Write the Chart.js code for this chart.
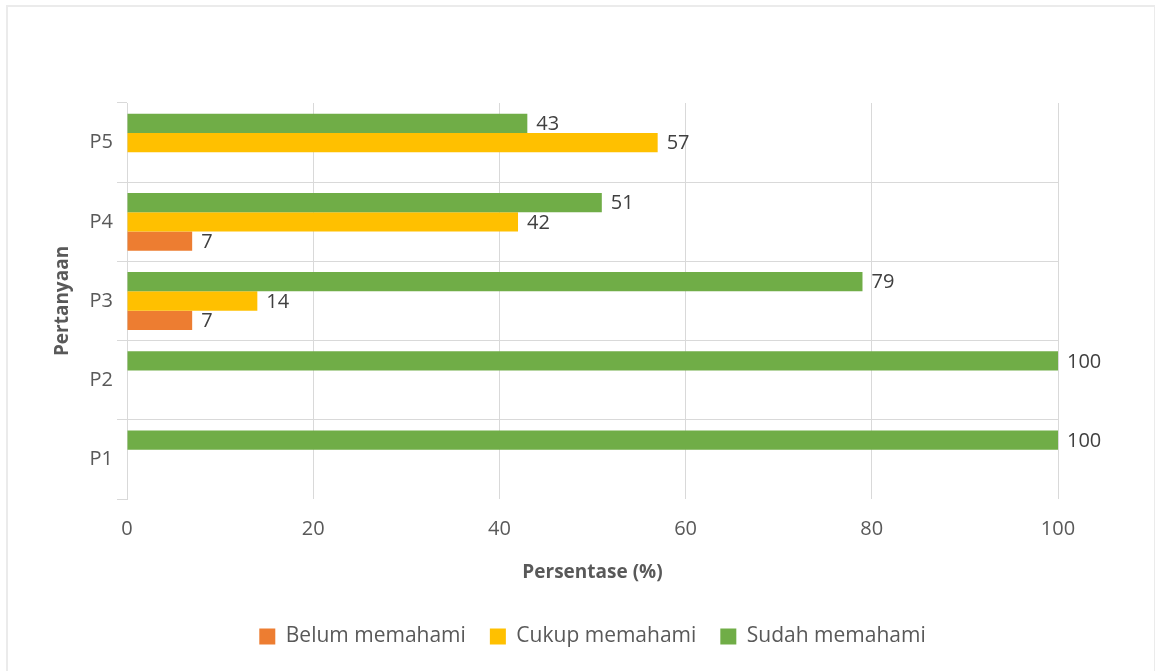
<!DOCTYPE html>
<html>
<head>
<meta charset="utf-8">
<script src="https://cdn.jsdelivr.net/npm/chart.js@4/dist/chart.umd.min.js"></script>
<style>
  html, body { margin: 0; padding: 0; background: #fff; }
  #wrap { position: relative; width: 1157px; height: 671px; }
  #frame { position: absolute; left: 6px; top: 5px; width: 1149px; height: 670px; border: 2px solid #ebebeb; border-right-width: 1px; box-sizing: border-box; pointer-events: none; }
</style>
</head>
<body>
<div id="wrap">
  <canvas id="c" width="1157" height="671"></canvas>
  <div id="frame"></div>
</div>
<script>
const categories = ['P1', 'P2', 'P3', 'P4', 'P5'];
const belumMemahami = [null, null, 7, 7, null];
const cukupMemahami = [null, null, 14, 42, 57];
const sudahMemahami = [100, 100, 79, 51, 43];
const xTicks = [0, 20, 40, 60, 80, 100];

const FONT = "'Open Sans', 'Noto Sans', sans-serif";
const TEXT = '#595959';
const GRID = '#d9d9d9';

const valueLabels = {
  id: 'valueLabels',
  afterDatasetsDraw(chart) {
    const ctx = chart.ctx;
    ctx.save();
    ctx.font = '20px ' + FONT;
    ctx.fillStyle = '#404040';
    ctx.textAlign = 'left';
    ctx.textBaseline = 'middle';
    chart.data.datasets.forEach((ds, di) => {
      const meta = chart.getDatasetMeta(di);
      meta.data.forEach((el, i) => {
        const v = ds.data[i];
        if (v === null || v === undefined) return;
        ctx.fillText(String(v), el.x + 9, el.y + 1);
      });
    });
    ctx.restore();
  }
};

new Chart(document.getElementById('c'), {
  type: 'bar',
  data: {
    labels: categories,
    datasets: [
      { label: 'Sudah memahami', data: sudahMemahami, backgroundColor: '#70AD47' },
      { label: 'Cukup memahami', data: cukupMemahami, backgroundColor: '#FFC000' },
      { label: 'Belum memahami', data: belumMemahami, backgroundColor: '#ED7D31' }
    ]
  },
  options: {
    indexAxis: 'y',
    responsive: false,
    animation: false,
    devicePixelRatio: 1,
    categoryPercentage: 0.73,
    barPercentage: 1,
    layout: { padding: { top: 103, right: 99, left: 40, bottom: 14 } },
    plugins: {
      tooltip: { enabled: false },
      legend: {
        position: 'bottom',
        fullSize: false,
        reverse: true,
        labels: {
          boxWidth: 16, boxHeight: 16, padding: 24,
          color: TEXT,
          font: { family: FONT, size: 21 }
        }
      }
    },
    scales: {
      x: {
        min: 0, max: 100,
        afterBuildTicks(scale) { scale.ticks = xTicks.map(v => ({ value: v })); },
        grid: { color: GRID, drawTicks: false },
        border: { display: false },
        ticks: { color: TEXT, padding: 18, font: { family: FONT, size: 20 } },
        title: { display: true, text: 'Persentase (%)', color: TEXT, padding: { top: 0, bottom: 18 }, font: { family: FONT, size: 19, weight: 'bold' } },
        afterFit(scale) { scale.height = 103; }
      },
      y: {
        reverse: true,
        grid: {
          color: (c) => (c.index === 0 || c.index === undefined || c.type !== 'tick') ? 'rgba(0,0,0,0)' : GRID,
          tickColor: GRID,
          tickLength: 10
        },
        border: { display: true, color: GRID },
        ticks: { color: TEXT, padding: 4, font: { family: FONT, size: 20 } },
        title: { display: true, text: 'Pertanyaan', color: TEXT, padding: { top: 11, bottom: 0 }, font: { family: FONT, size: 19, weight: 'bold' } },
        afterFit(scale) { scale.width = 87; }
      }
    }
  },
  plugins: [valueLabels]
});
</script>
</body>
</html>
